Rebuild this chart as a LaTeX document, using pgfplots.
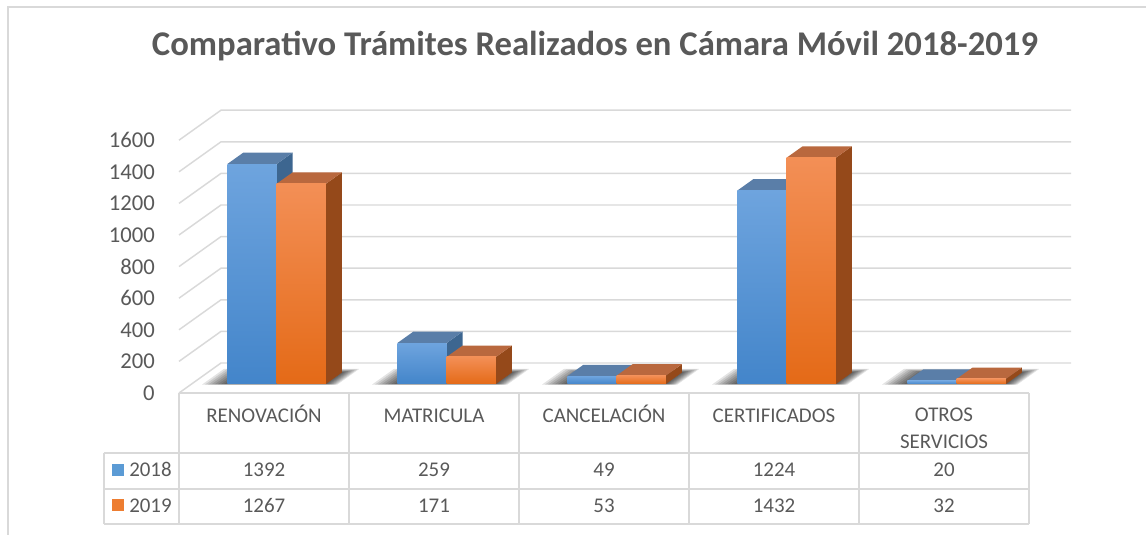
\documentclass[border=0pt]{standalone}
\usepackage{fontspec}
\setmainfont{Carlito}
\usepackage{pgfplots}
\pgfplotsset{compat=1.18}

\definecolor{txt}{HTML}{595959}
\definecolor{gridc}{HTML}{D9D9D9}
% 2018 faces
\definecolor{bft}{HTML}{6EA4DE}
\definecolor{bfb}{HTML}{4385CA}
\definecolor{bside}{HTML}{3D6690}
\definecolor{btop}{HTML}{5A7EA8}
\definecolor{bkey}{HTML}{5B9BD5}
% 2019 faces
\definecolor{oft}{HTML}{F38F56}
\definecolor{ofb}{HTML}{E46A17}
\definecolor{oside}{HTML}{95491A}
\definecolor{otop}{HTML}{B9683E}
\definecolor{okey}{HTML}{ED7D31}

% one box: left x, right x, value, colour prefix
\newcommand{\cuboid}[4]{%
  \addplot3[draw=none, fill=#4side] coordinates {(#2,0.3,0) (#2,0.68,0) (#2,0.68,#3) (#2,0.3,#3)};
  \addplot3[draw=none, fill=#4top] coordinates {(#1,0.3,#3) (#2,0.3,#3) (#2,0.68,#3) (#1,0.68,#3)};
  \addplot3[draw=none, shading=axis, top color=#4ft, bottom color=#4fb] coordinates {(#1,0.3,0) (#2,0.3,0) (#2,0.3,#3) (#1,0.3,#3)};
}
% category index, 2018, 2019
\newcommand{\pair}[3]{%
  \pgfmathsetmacro\xl{#1-0.29}\pgfmathsetmacro\xr{#1+0.29}%
  % soft floor shadow, built from stacked translucent layers
  \pgfplotsinvokeforeach{1,...,8}{%
    \pgfmathsetmacro\sa{#1-0.29-0.018*##1}%
    \pgfmathsetmacro\sb{#1+0.29+0.009*##1}%
    \pgfmathsetmacro\da{0.3-0.003*##1}%
    \pgfmathsetmacro\db{0.68+0.015*##1}%
    \addplot3[draw=none, fill=black, fill opacity=0.11] coordinates {(\sa,\da,0) (\sb,\da,0) (\sb,\db,0) (\sa,\db,0)};
  }%
  \cuboid{\xl}{#1}{#2}{b}
  \cuboid{#1}{\xr}{#3}{o}
}

\begin{document}
\begin{tikzpicture}
\begin{axis}[
  x={(127.5pt,0pt)}, y={(31.5pt,22.5pt)}, z={(0pt,0.1185pt)},
  xmin=-0.5, xmax=4.5, ymin=0, ymax=1, zmin=0, zmax=1600,
  hide axis, clip=false, no markers,
]
\pgfplotsinvokeforeach{0,200,...,1600}{
  \addplot3[gridc, line width=1.1pt] coordinates {(-0.5,0,#1) (-0.5,1,#1) (4.5,1,#1)};
  \node[anchor=east, inner sep=0, xshift=-18pt, text=txt, font=\fontsize{17}{20}\selectfont] at (axis cs:-0.5,0,#1) {#1};
}
\pair{0}{1392}{1267}
\pair{1}{259}{171}
\pair{2}{49}{53}
\pair{3}{1224}{1432}
\pair{4}{20}{32}
\coordinate (O) at (axis cs:0,0,0);
\end{axis}

\begin{scope}[x=0.75pt, y=-0.75pt, shift={(O)}, shift={(-264,-393)}]
  \draw[gridc, line width=0.8pt] (8,560) -- (8,7) -- (1170,7);
  \node[anchor=base, inner sep=0, text=txt, font=\fontsize{26}{30}\selectfont\bfseries]
    at (595,56) {Comparativo Trámites Realizados en Cámara Móvil 2018-2019};
  % data table
  \draw[gridc, line width=1.1pt] (179,393) -- (1029,393);
  \foreach \yy in {453,489,524} \draw[gridc, line width=1.1pt] (104,\yy) -- (1029,\yy);
  \draw[gridc, line width=1.1pt] (104,453) -- (104,524);
  \foreach \xx in {179,349,519,689,859,1029} \draw[gridc, line width=1.1pt] (\xx,393) -- (\xx,524);
  \begin{scope}[every node/.style={inner sep=0, text=txt, font=\fontsize{15.7}{18}\selectfont}]
    \node[anchor=base] at (264,423) {RENOVACIÓN};
    \node[anchor=base] at (434,423) {MATRICULA};
    \node[anchor=base] at (604,423) {CANCELACIÓN};
    \node[anchor=base] at (774,423) {CERTIFICADOS};
    \node[anchor=base] at (944,422) {OTROS};
    \node[anchor=base] at (944,449) {SERVICIOS};
    \fill[bkey] (112,464) rectangle (124,476);
    \fill[okey] (112,499) rectangle (124,511);
    \node[anchor=base west] at (129,477) {2018};
    \node[anchor=base west] at (129,513) {2019};
    \foreach \v [count=\i from 0] in {1392,259,49,1224,20}
      \node[anchor=base] at (264+170*\i,477) {\v};
    \foreach \v [count=\i from 0] in {1267,171,53,1432,32}
      \node[anchor=base] at (264+170*\i,513) {\v};
  \end{scope}
  \pgfresetboundingbox
  \path[use as bounding box] (0,0) rectangle (1146,535);
\end{scope}
\end{tikzpicture}
\end{document}
